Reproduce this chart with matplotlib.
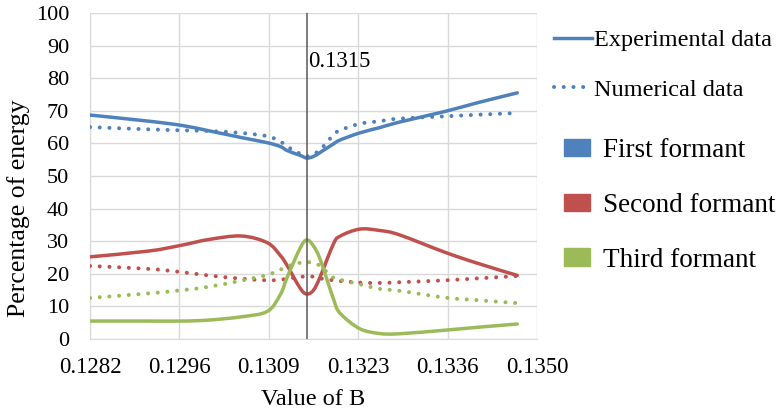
"""
Percentage of energy in the first three formants vs. the value of B,
experimental (solid) vs. numerical (dotted) data.
"""

import matplotlib

matplotlib.use("Agg")

import matplotlib.pyplot as plt
import numpy as np
from matplotlib.lines import Line2D
from matplotlib.patches import Patch, PathPatch
from matplotlib.path import Path

plt.rcParams["font.family"] = ["Liberation Serif", "DejaVu Serif"]

# -----------------------------------------------------------------------------
# Data
# -----------------------------------------------------------------------------
b_values = [
    0.1282, 0.1291, 0.1296, 0.1300, 0.1305, 0.1309, 0.1311, 0.1312, 0.1314,
    0.1315, 0.1316, 0.1317, 0.1319, 0.1320, 0.1323, 0.1326, 0.1329, 0.1336,
    0.1341, 0.1347,
]

first_exp = [
    68.7, 66.8, 65.5, 63.9, 61.8, 60.2, 59.0, 57.8, 56.3, 55.5, 56.0, 57.2,
    59.8, 61.0, 63.2, 64.8, 66.5, 69.8, 72.5, 75.5,
]
first_num = [
    65.0, 64.3, 64.0, 63.8, 63.2, 62.2, 60.5, 59.0, 56.8, 56.0, 56.8, 58.0,
    62.5, 64.0, 66.0, 66.8, 67.6, 68.3, 68.8, 69.3,
]
second_exp = [
    25.2, 27.0, 28.8, 30.5, 31.6, 29.5, 25.5, 22.5, 15.5, 13.8, 15.0, 19.0,
    29.0, 31.5, 33.7, 33.3, 32.0, 26.6, 23.2, 19.5,
]
second_num = [
    22.4, 21.5, 20.5, 19.5, 18.5, 18.0, 18.2, 18.5, 19.0, 19.3, 19.1, 18.6,
    18.0, 17.8, 17.3, 17.2, 17.4, 18.0, 18.6, 19.3,
]
third_exp = [
    5.5, 5.5, 5.5, 5.8, 6.8, 8.5, 13.8, 19.0, 28.0, 30.4, 28.5, 24.5,
    12.5, 8.0, 3.2, 1.7, 1.6, 2.7, 3.6, 4.6,
]
third_num = [
    12.6, 14.0, 15.0, 16.0, 17.9, 19.7, 21.3, 22.3, 23.4, 23.6, 23.3, 22.4,
    18.8, 18.2, 16.8, 15.4, 14.8, 12.7, 11.9, 11.0,
]

x_ticks = [0.1282, 0.12956, 0.13092, 0.13228, 0.13364, 0.1350]
x_tick_labels = ["0.1282", "0.1296", "0.1309", "0.1323", "0.1336", "0.1350"]
b_marker = 0.1315

BLUE = "#4F81BD"
RED = "#C0504D"
GREEN = "#9BBB59"
DOTS = (0, (0.01, 2.4))


def smooth_path(x, y):
    """Smoothed line through the points (Catmull-Rom as cubic Beziers),
    like Excel's 'smoothed line' option."""
    pts = np.column_stack([x, y]).astype(float)
    verts = [pts[0]]
    codes = [Path.MOVETO]
    n = len(pts)
    for i in range(n - 1):
        p0 = pts[max(i - 1, 0)]
        p1, p2 = pts[i], pts[i + 1]
        p3 = pts[min(i + 2, n - 1)]
        verts += [p1 + (p2 - p0) / 6, p2 - (p3 - p1) / 6, p2]
        codes += [Path.CURVE4] * 3
    return Path(verts, codes)


# -----------------------------------------------------------------------------
# Figure
# -----------------------------------------------------------------------------
fig = plt.figure(figsize=(7.77, 4.17), dpi=100)
ax = fig.add_axes([90 / 777, 1 - 339 / 417, (537 - 90) / 777, (339 - 13) / 417])

series = [
    (first_exp, BLUE, "-"), (first_num, BLUE, DOTS),
    (second_exp, RED, "-"), (second_num, RED, DOTS),
    (third_exp, GREEN, "-"), (third_num, GREEN, DOTS),
]
for values, color, ls in series:
    lw = 2.5 if ls == "-" else 2.9
    ax.add_patch(PathPatch(smooth_path(b_values, values), fill=False,
                           edgecolor=color, lw=lw, ls=ls, capstyle="round",
                           joinstyle="round", zorder=3))

ax.axvline(b_marker, color="#595959", lw=1.1, zorder=4)
ax.text(b_marker + 0.00002, 85, f"{b_marker:.4f}", fontsize=16.5,
        ha="left", va="center")

ax.set_xlim(x_ticks[0], x_ticks[-1])
ax.set_ylim(0, 100)
ax.set_xticks(x_ticks)
ax.set_xticklabels(x_tick_labels)
ax.set_yticks(np.arange(0, 101, 10))
ax.tick_params(axis="x", length=0, pad=13, labelsize=16.5)
ax.tick_params(axis="y", length=0, pad=15, labelsize=16)
ax.grid(True, color="#D9D9D9", lw=1)
ax.set_axisbelow(True)
for side in ("top", "right"):
    ax.spines[side].set_visible(False)
for side in ("left", "bottom"):
    ax.spines[side].set_color("#D9D9D9")

ax.set_xlabel("Value of B", fontsize=17.5, labelpad=8)
ax.set_ylabel("Percentage of energy", fontsize=18.5)
ax.yaxis.set_label_coords(-0.135, 0.4)

# Legends: line style (data type) and colour (formant)
style_handles = [
    Line2D([], [], color=BLUE, lw=2.5, ls="-"),
    Line2D([], [], color=BLUE, lw=2.9, ls=DOTS, dash_capstyle="round"),
]
fig.legend(style_handles, ["Experimental data", "Numerical data"],
           loc="upper left", bbox_to_anchor=(554 / 777, 1 - 29 / 417),
           frameon=False, fontsize=17.5, handlelength=1.55,
           handletextpad=0.1, labelspacing=1.15, borderpad=0,
           borderaxespad=0)

formant_handles = [Patch(color=c) for c in (BLUE, RED, GREEN)]
fig.legend(formant_handles,
           ["First formant", "Second formant", "Third formant"],
           loc="upper left", bbox_to_anchor=(564 / 777, 1 - 138 / 417),
           frameon=False, fontsize=19.5, handlelength=0.95,
           handleheight=0.6, handletextpad=0.5, labelspacing=1.1,
           borderpad=0, borderaxespad=0)

fig.savefig("out.png", dpi=100, facecolor="white")
